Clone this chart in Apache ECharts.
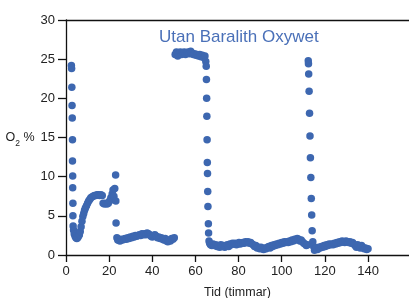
<!DOCTYPE html>
<html>
<head>
<meta charset="utf-8">
<script src="https://cdn.jsdelivr.net/npm/echarts@6/dist/echarts.min.js"></script>
<style>html,body{margin:0;padding:0;background:#fff;}#c{width:409px;height:298px;}</style>
</head>
<body>
<div id="c"></div>
<script>
// Data
var chartTitle = 'Utan Baralith Oxywet';
var xAxisTitle = 'Tid (timmar)';
var xTicks = [0, 20, 40, 60, 80, 100, 120, 140];
var yTicks = [0, 5, 10, 15, 20, 25, 30];

// Time (hours)
var hours = [
  2.5,2.6,2.7,2.8,2.9,3.0,3.0,3.1,3.1,3.2,3.2,3.3,3.5,3.8,4.2,4.6,5.0,5.4,5.8,6.2,6.6,7.0,7.4,7.8,8.2,8.6,9.0,9.5,10.0,10.5,11.0,11.5,12.0,12.6,13.2,13.8,14.4,15.0,15.6,16.2,16.8,17.2,17.8,18.4,19.0,19.6,20.2,20.8,21.4,21.8,22.2,22.6,23.0,23.1,23.2,23.6,24.0,
  24.4,25.0,25.6,26.2,26.8,27.4,28.0,28.6,29.2,29.8,30.4,31.0,31.6,32.2,32.8,33.4,34.0,34.6,35.2,35.8,36.4,37.0,37.6,38.2,38.8,39.4,40.0,40.6,41.2,41.8,42.4,43.0,43.6,44.2,44.8,45.4,46.0,46.6,47.2,47.8,48.4,49.0,49.6,50.2,
  50.6,51.2,51.8,52.4,53.0,53.6,54.2,54.8,55.4,56.0,56.6,57.2,57.8,58.4,59.0,59.6,60.2,60.8,61.4,62.0,62.6,63.2,63.8,64.4,64.8,65.0,65.1,65.2,65.3,65.4,65.5,65.6,65.7,65.8,66.0,66.1,66.3,66.6,
  67.0,67.6,68.2,68.8,69.4,70.0,70.6,71.2,71.8,72.4,73.0,73.6,74.2,74.8,75.4,76.0,76.6,77.2,77.8,78.4,79.0,79.6,80.2,80.8,81.4,82.0,82.6,83.2,83.8,84.4,85.0,85.6,86.2,86.8,87.4,88.0,88.6,89.2,89.8,90.4,91.0,91.6,92.2,92.8,93.4,94.0,94.6,95.2,95.8,96.4,97.0,97.6,98.2,98.8,99.4,100.0,100.6,101.2,101.8,102.4,103.0,103.6,104.2,104.8,105.4,106.0,106.6,107.2,107.8,108.4,109.0,109.6,110.2,110.8,111.4,112.0,
  112.3,112.4,112.5,112.7,112.9,113.1,113.3,113.5,113.7,113.9,114.1,114.4,114.8,115.2,
  115.6,116.0,116.6,117.2,117.8,118.4,119.0,119.6,120.2,120.8,121.4,122.0,122.6,123.2,123.8,124.4,125.0,125.6,126.2,126.8,127.4,128.0,128.6,129.2,129.8,130.4,131.0,131.6,132.2,132.8,133.4,134.0,134.6,135.2,135.8,136.4,137.0,137.6,138.2,138.8,139.4,140.0
];

// O2 (%)
var o2 = [
  24.2,23.8,21.4,19.1,17.5,14.7,12.0,10.1,8.6,6.6,5.0,3.7,3.2,2.7,2.4,2.2,2.1,2.2,2.4,2.6,3.0,3.6,4.3,4.9,5.3,5.7,6.0,6.3,6.6,6.9,7.1,7.3,7.4,7.5,7.6,7.6,7.7,7.7,7.6,7.7,7.6,6.6,6.5,6.6,6.5,6.6,6.9,7.3,7.8,8.3,7.5,8.5,10.2,6.9,4.1,2.2,1.9,
  1.9,1.8,2.0,1.9,2.0,2.1,2.0,2.2,2.1,2.3,2.2,2.4,2.3,2.5,2.4,2.5,2.6,2.5,2.7,2.6,2.7,2.6,2.8,2.7,2.6,2.4,2.3,2.5,2.6,2.4,2.2,2.3,2.1,2.2,2.0,1.9,2.1,1.8,1.7,1.9,1.8,2.1,2.0,2.2,
  25.6,25.9,25.4,25.7,25.9,25.6,25.8,25.9,25.6,25.8,25.9,25.7,26.0,25.8,25.6,25.7,25.5,25.6,25.4,25.6,25.3,25.5,25.2,25.4,24.7,24.1,22.4,20.0,17.7,14.7,11.8,10.4,8.1,6.2,4.0,2.8,1.8,1.5,
  1.3,1.2,1.4,1.2,1.3,1.1,1.2,1.0,1.3,1.1,1.2,1.0,1.2,1.3,1.1,1.4,1.3,1.5,1.4,1.5,1.3,1.4,1.6,1.4,1.5,1.6,1.5,1.7,1.6,1.7,1.5,1.6,1.4,1.3,1.1,1.2,0.9,1.0,0.8,1.0,0.8,0.7,0.9,0.8,1.0,1.1,0.9,1.2,1.1,1.3,1.2,1.4,1.3,1.5,1.4,1.6,1.5,1.7,1.6,1.7,1.6,1.8,1.7,1.9,1.8,2.0,1.9,2.1,2.0,1.8,1.9,1.7,1.5,1.4,1.2,1.3,
  24.8,24.4,23.1,20.9,18.1,15.2,12.4,9.9,7.2,5.1,3.1,1.7,1.1,0.6,
  0.8,0.9,0.7,1.0,0.9,1.1,1.0,1.2,1.1,1.3,1.2,1.4,1.3,1.4,1.3,1.5,1.4,1.6,1.5,1.7,1.6,1.8,1.7,1.6,1.8,1.7,1.6,1.7,1.5,1.6,1.4,1.2,1.0,1.3,1.1,0.9,1.2,1.0,0.8,0.9,0.7,0.8
];

var points = hours.map(function (h, i) { return [h, o2[i]]; });

var chart = echarts.init(document.getElementById('c'), null, {renderer: 'canvas'});
var baseFont = 'Liberation Sans, Arial, sans-serif';
chart.setOption({
  animation: false,
  backgroundColor: '#ffffff',
  title: {
    text: chartTitle,
    left: 154,
    top: 24,
    textStyle: {
      fontFamily: baseFont,
      fontSize: 17,
      fontWeight: 'normal',
      color: '#4a70b8'
    }
  },
  grid: {left: 66, top: 20, right: 0, bottom: 43, containLabel: false, outerBoundsMode: 'none'},
  xAxis: [{
    type: 'value',
    min: 0, max: 159,
    name: xAxisTitle,
    nameLocation: 'middle',
    nameGap: 31,
    nameTextStyle: {fontFamily: baseFont, fontSize: 12.5, color: '#222'},
    axisLine: {lineStyle: {color: '#111', width: 1.3}},
    axisTick: {length: 7, customValues: xTicks, lineStyle: {color: '#111', width: 1.3}},
    axisLabel: {
      fontFamily: baseFont, fontSize: 13, color: '#222', margin: 10,
      customValues: xTicks
    },
    splitLine: {show: false}
  }, {
    type: 'value',
    position: 'top',
    min: 0, max: 159,
    axisLine: {lineStyle: {color: '#111', width: 1.3}},
    axisTick: {show: false},
    axisLabel: {show: false},
    splitLine: {show: false}
  }],
  yAxis: {
    type: 'value',
    min: 0, max: 30, interval: 5,
    name: '{o|O}{s|2}{o| %}',
    nameLocation: 'middle',
    nameRotate: 0,
    nameGap: 31,
    nameTextStyle: {
      padding: [0, 0, 2, 0],
      rich: {
        o: {fontFamily: baseFont, fontSize: 12.5, color: '#222', verticalAlign: 'bottom', lineHeight: 16},
        s: {fontFamily: baseFont, fontSize: 8.5, color: '#222', verticalAlign: 'bottom', lineHeight: 11, padding: [0, 0, -4, 0]}
      }
    },
    axisLine: {lineStyle: {color: '#111', width: 1.3}},
    axisTick: {length: 8, lineStyle: {color: '#111', width: 1.3}},
    axisLabel: {
      fontFamily: baseFont, fontSize: 13, color: '#222', margin: 11,
      customValues: yTicks
    },
    splitLine: {show: false}
  },
  series: [{
    type: 'scatter',
    data: points,
    symbol: 'circle',
    symbolSize: 7.5,
    itemStyle: {color: '#3d67b0', opacity: 1},
    clip: false
  }]
});
</script>
</body>
</html>
